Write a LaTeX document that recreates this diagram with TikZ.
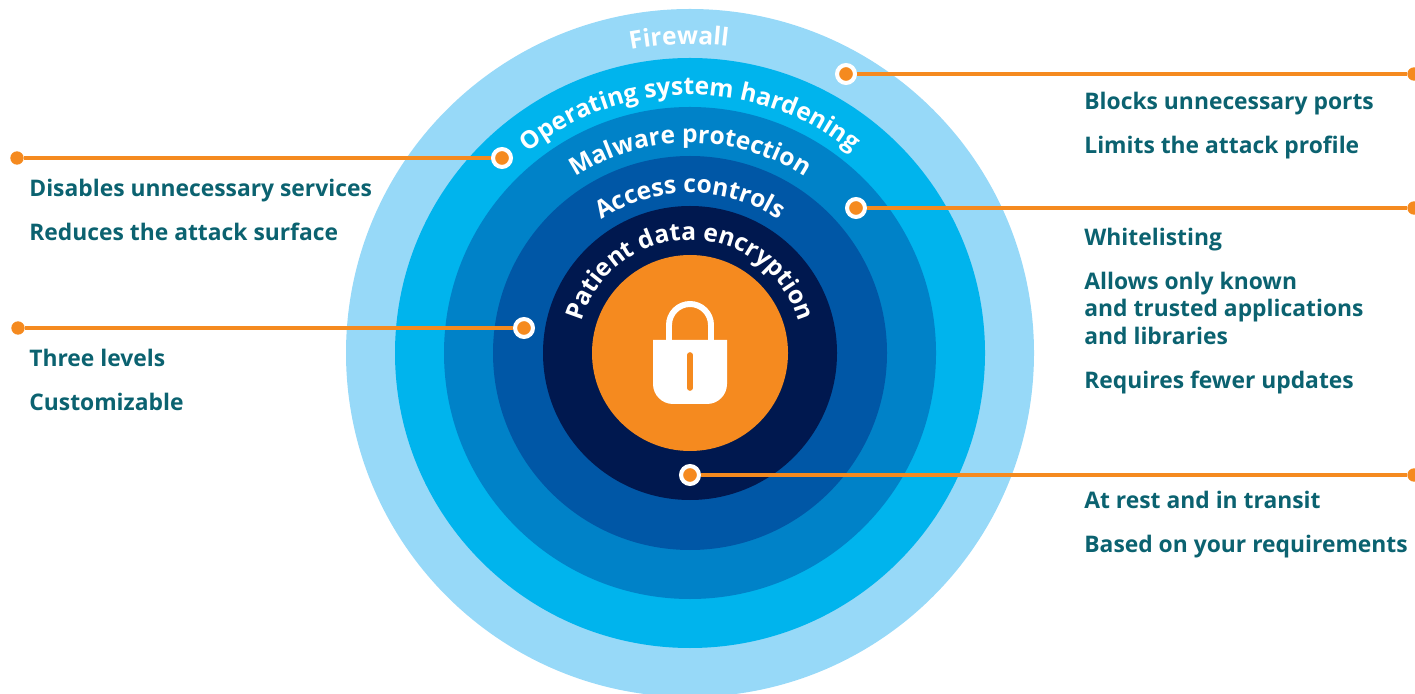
\documentclass[tikz,border=0pt]{standalone}
\usepackage{fontspec}
\setmainfont{Open Sans}
\usetikzlibrary{decorations.text}
\definecolor{fwblue}{HTML}{97D9F8}
\definecolor{osblue}{HTML}{00B4ED}
\definecolor{mwblue}{HTML}{0082C8}
\definecolor{acblue}{HTML}{0057A6}
\definecolor{pdblue}{HTML}{00184F}
\definecolor{lockorange}{HTML}{F58A1F}
\definecolor{callteal}{HTML}{0B6270}
\tikzset{
	leader/.style={draw=lockorange, line width=1.85pt},
	ringdot/.style={circle, fill=lockorange, draw=white, line width=2.3pt, minimum size=10.2pt, inner sep=0pt},
	enddot/.style={circle, fill=lockorange, minimum size=7.6pt, inner sep=0pt},
	callout/.style={anchor=base west, inner sep=0pt, text=callteal, font=\bfseries\fontsize{13pt}{15pt}\selectfont}
}
\def\ringlabel(#1:#2:#3)#4{\path[decorate, decoration={text along path, text align=center, text={|\bfseries\fontsize{#3pt}{#3pt}\selectfont\color{white}|#4}}] ({690+#1*cos(#2+85)}, {340+#1*sin(#2+85)}) arc (#2+85:#2-85:#1);}

\begin{document}
\begin{tikzpicture}[x=0.02cm, y=0.02cm]
	\useasboundingbox (0, 0) rectangle (1415, 693);
	
	%%%%% RINGS %%%%%
	\begin{scope}
		\clip (0, 0) rectangle (1415, 693);
		\fill[fwblue] (690, 340) circle (344);
		\fill[osblue] (690, 340) circle (295);
		\fill[mwblue] (690, 340) circle (246);
		\fill[acblue] (690, 340) circle (197);
		\fill[pdblue] (690, 340) circle (147);
		\fill[lockorange] (690, 340) circle (98);
	\end{scope}
	
	%%%%% RING TEXT %%%%%
	\ringlabel(309:92:14){Firewall}
	\ringlabel(258:90:14){Operating system hardening}
	\ringlabel(210:90:14){Malware protection}
	\ringlabel(160:90:14){Access controls}
	\ringlabel(113:90:14){Patient data encryption}
	
	%%%%% LOCK %%%%%
	\draw[white, line width=3.4pt] (669, 353) -- (669, 368) arc (180:0:21) -- (711, 353);
	\fill[white] (653, 353) -- (727, 353) -- (727, 309) arc (0:-90:20) -- (673, 289) arc (270:180:20) -- cycle;
	\draw[lockorange, line width=3.2pt, line cap=round] (690, 338) -- (690, 305);
	
	%%%%% CALLOUTS %%%%%
	\node[enddot] (fwend) at (1414, 619) {};
	\node[ringdot] (fwdot) at (846, 619) {};
	\draw[leader] (fwdot) -- (fwend);
	
	\node[enddot] (osend) at (17, 535) {};
	\node[ringdot] (osdot) at (502, 535) {};
	\draw[leader] (osend) -- (osdot);
	
	\node[enddot] (mwend) at (1414, 485) {};
	\node[ringdot] (mwdot) at (856, 485) {};
	\draw[leader] (mwdot) -- (mwend);
	
	\node[enddot] (acend) at (18, 365) {};
	\node[ringdot] (acdot) at (524, 365) {};
	\draw[leader] (acend) -- (acdot);
	
	\node[enddot] (pdend) at (1414, 218) {};
	\node[ringdot] (pddot) at (690, 218) {};
	\draw[leader] (pddot) -- (pdend);
	
	\node[callout] (os1) at (29, 496) {Disables unnecessary services};
	\node[callout] (os2) at (29, 452) {Reduces the attack surface};
	\node[callout] (ac1) at (29, 326) {Three levels};
	\node[callout] (ac2) at (29, 282) {Customizable};
	\node[callout] (fw1) at (1084, 583) {Blocks unnecessary ports};
	\node[callout] (fw2) at (1084, 539) {Limits the attack profile};
	\node[callout] (mw1) at (1084, 447) {Whitelisting};
	\node[callout] (mw2) at (1084, 403) {Allows only known};
	\node[callout] (mw3) at (1084, 376) {and trusted applications};
	\node[callout] (mw4) at (1084, 348) {and libraries};
	\node[callout] (mw5) at (1084, 304) {Requires fewer updates};
	\node[callout] (pd1) at (1084, 185) {At rest and in transit};
	\node[callout] (pd2) at (1084, 141) {Based on your requirements};
\end{tikzpicture}
\end{document}
